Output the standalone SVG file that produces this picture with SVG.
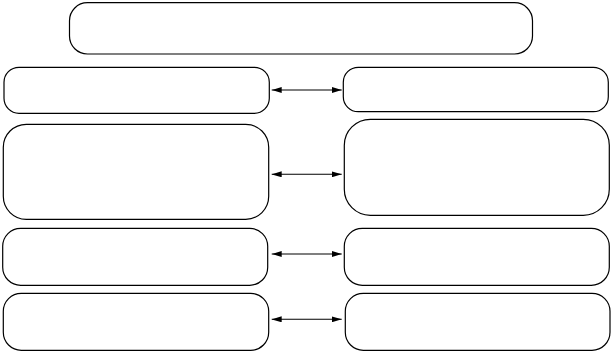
<svg xmlns="http://www.w3.org/2000/svg" width="612" height="352" viewBox="0 0 612 352">
<style>
.box{fill:#fff;stroke:#000;stroke-width:1.2}
.conn{stroke:#000;stroke-width:1.1;fill:none;marker-start:url(#ah);marker-end:url(#ah)}
</style>
<defs>
<marker id="ah" viewBox="0 0 10 6" refX="10" refY="3" markerWidth="10" markerHeight="6" markerUnits="userSpaceOnUse" orient="auto-start-reverse">
<path d="M0,0 L10,3 L0,6 Z" fill="#000"/>
</marker>
</defs>
<rect width="612" height="352" fill="#fff"/>
<g id="top"><rect class="box" x="69.5" y="2.7" width="463" height="51.3" rx="18"/></g>
<g id="L1"><rect class="box" x="4" y="67.3" width="265.3" height="46" rx="15"/></g>
<g id="R1"><rect class="box" x="343.3" y="67.3" width="265" height="44.4" rx="15"/></g>
<g id="L2"><rect class="box" x="3.3" y="124.3" width="265.4" height="95" rx="23"/></g>
<g id="R2"><rect class="box" x="344.3" y="119.3" width="265" height="96" rx="26"/></g>
<g id="L3"><rect class="box" x="2.7" y="228.3" width="265" height="57" rx="18"/></g>
<g id="R3"><rect class="box" x="344.3" y="228.3" width="265" height="57" rx="18"/></g>
<g id="L4"><rect class="box" x="3.3" y="293.3" width="265.4" height="57" rx="18"/></g>
<g id="R4"><rect class="box" x="345.3" y="293.3" width="264.7" height="57" rx="18"/></g>
<g id="connectors">
<line class="conn" x1="271.7" y1="90" x2="341.7" y2="90"/>
<line class="conn" x1="271.7" y1="174.3" x2="341.7" y2="174.3"/>
<line class="conn" x1="271.7" y1="254" x2="341.7" y2="254"/>
<line class="conn" x1="271.7" y1="319.3" x2="341.7" y2="319.3"/>
</g>
</svg>
